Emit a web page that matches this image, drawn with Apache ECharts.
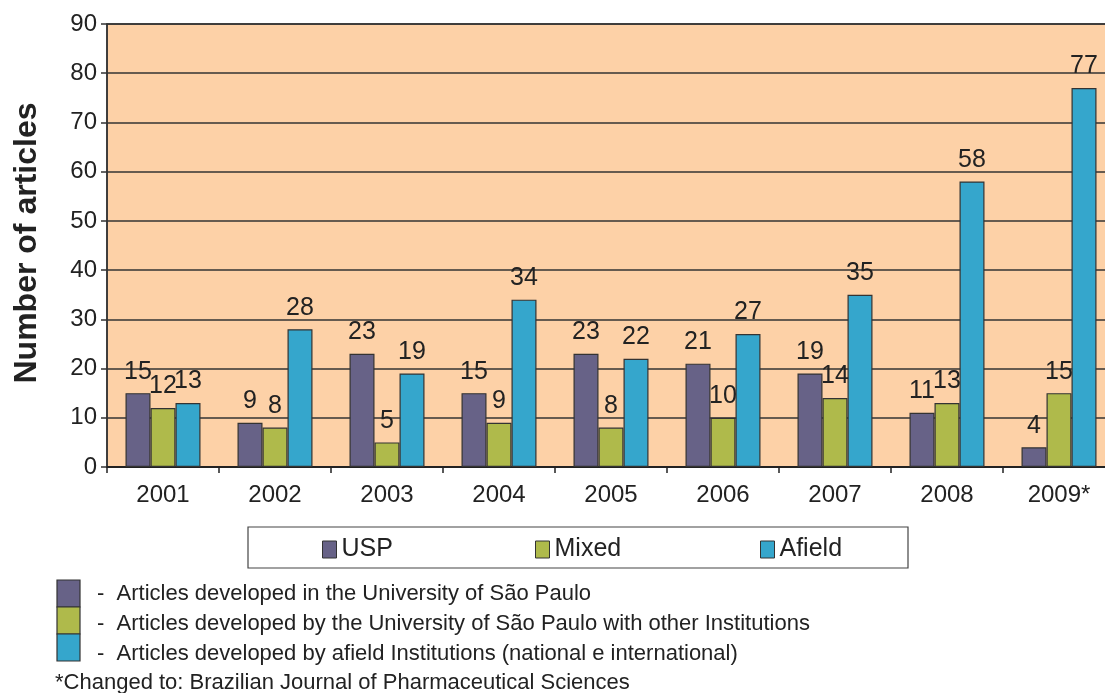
<!DOCTYPE html>
<html>
<head>
<meta charset="utf-8">
<script src="https://cdn.jsdelivr.net/npm/echarts@6/dist/echarts.min.js"></script>
<style>
  html, body { margin: 0; padding: 0; background: #fff; }
  #chart { width: 1105px; height: 693px; }
</style>
</head>
<body>
<div id="chart"></div>
<script>
// Values.
const years = ['2001', '2002', '2003', '2004', '2005', '2006', '2007', '2008', '2009*'];
const usp = [15, 9, 23, 15, 23, 21, 19, 11, 4];
const mixed = [12, 8, 5, 9, 8, 10, 14, 13, 15];
const afield = [13, 28, 19, 34, 22, 27, 35, 58, 77];
const seriesNames = ['USP', 'Mixed', 'Afield'];
const seriesColors = ['#676287', '#afba4b', '#35a6cc'];
const notes = [
  '-  Articles developed in the University of São Paulo',
  '-  Articles developed by the University of São Paulo with other Institutions',
  '-  Articles developed by afield Institutions (national e international)'
];
const footnote = '*Changed to: Brazilian Journal of Pharmaceutical Sciences';

const FONT = '"Liberation Sans", Arial, sans-serif';
const chart = echarts.init(document.getElementById('chart'));

function barSeries(name, data, color) {
  return {
    name, type: 'bar', data,
    barGap: '0%', barWidth: 25,
    itemStyle: { color, borderColor: '#333', borderWidth: 1.2 },
    label: {
      show: true, position: 'top', distance: 9,
      fontFamily: FONT, fontSize: 25, color: '#222'
    }
  };
}

// three single-item legends so each can sit where the reference puts it
const legendLefts = [322, 535, 760];
const legends = seriesNames.map((n, i) => ({
  data: [n], left: legendLefts[i], top: 537, orient: 'horizontal',
  icon: 'rect', itemWidth: 14, itemHeight: 17, itemGap: 0, padding: 0,
  itemStyle: { borderColor: '#333', borderWidth: 1 },
  textStyle: { fontFamily: FONT, fontSize: 25, color: '#222', padding: [0, 0, 0, 0] },
  selectedMode: false
}));

const graphics = [
  { type: 'rect', shape: { x: 248, y: 527, width: 660, height: 41 },
    style: { fill: '#fff', stroke: '#444', lineWidth: 1.2 }, z: -1 },
  {
    type: 'text', rotation: Math.PI / 2, x: 27, y: 243,
    style: { text: 'Number of articles', font: 'bold 32px ' + FONT, fill: '#222',
             textAlign: 'center', textVerticalAlign: 'middle' }
  }
];
seriesColors.forEach((c, i) => {
  graphics.push({ type: 'rect', shape: { x: 57, y: 580 + i * 27, width: 23, height: 27 },
    style: { fill: c, stroke: '#333', lineWidth: 1.2 } });
  graphics.push({ type: 'text', x: 97, y: 594 + i * 30,
    style: { text: notes[i], font: '22px ' + FONT, fill: '#222', textVerticalAlign: 'middle' } });
});
graphics.push({ type: 'text', x: 55, y: 683,
  style: { text: footnote, font: '22px ' + FONT, fill: '#222', textVerticalAlign: 'middle' } });

chart.setOption({
  animation: false,
  grid: {
    left: 107, top: 24, width: 1008, bottom: 226,
    outerBoundsMode: 'none', containLabel: false,
    show: true, backgroundColor: '#fdd1a7', borderColor: '#333', borderWidth: 1.5
  },
  legend: legends,
  xAxis: {
    type: 'category', data: years,
    axisLine: { lineStyle: { color: '#222', width: 2 } },
    axisTick: { show: true, length: 6, lineStyle: { color: '#222', width: 1.5 } },
    axisLabel: { fontFamily: FONT, fontSize: 24, color: '#222', margin: 16 }
  },
  yAxis: {
    type: 'value', min: 0, max: 90, interval: 10,
    axisLine: { show: true, lineStyle: { color: '#333', width: 1.5 } },
    axisTick: { show: true, length: 6, lineStyle: { color: '#333', width: 1.5 } },
    axisLabel: { fontFamily: FONT, fontSize: 24, color: '#222', margin: 10 },
    splitLine: { lineStyle: { color: '#333', width: 1.5 } }
  },
  series: [
    barSeries(seriesNames[0], usp, seriesColors[0]),
    barSeries(seriesNames[1], mixed, seriesColors[1]),
    barSeries(seriesNames[2], afield, seriesColors[2])
  ],
  graphic: graphics
});
</script>
</body>
</html>
